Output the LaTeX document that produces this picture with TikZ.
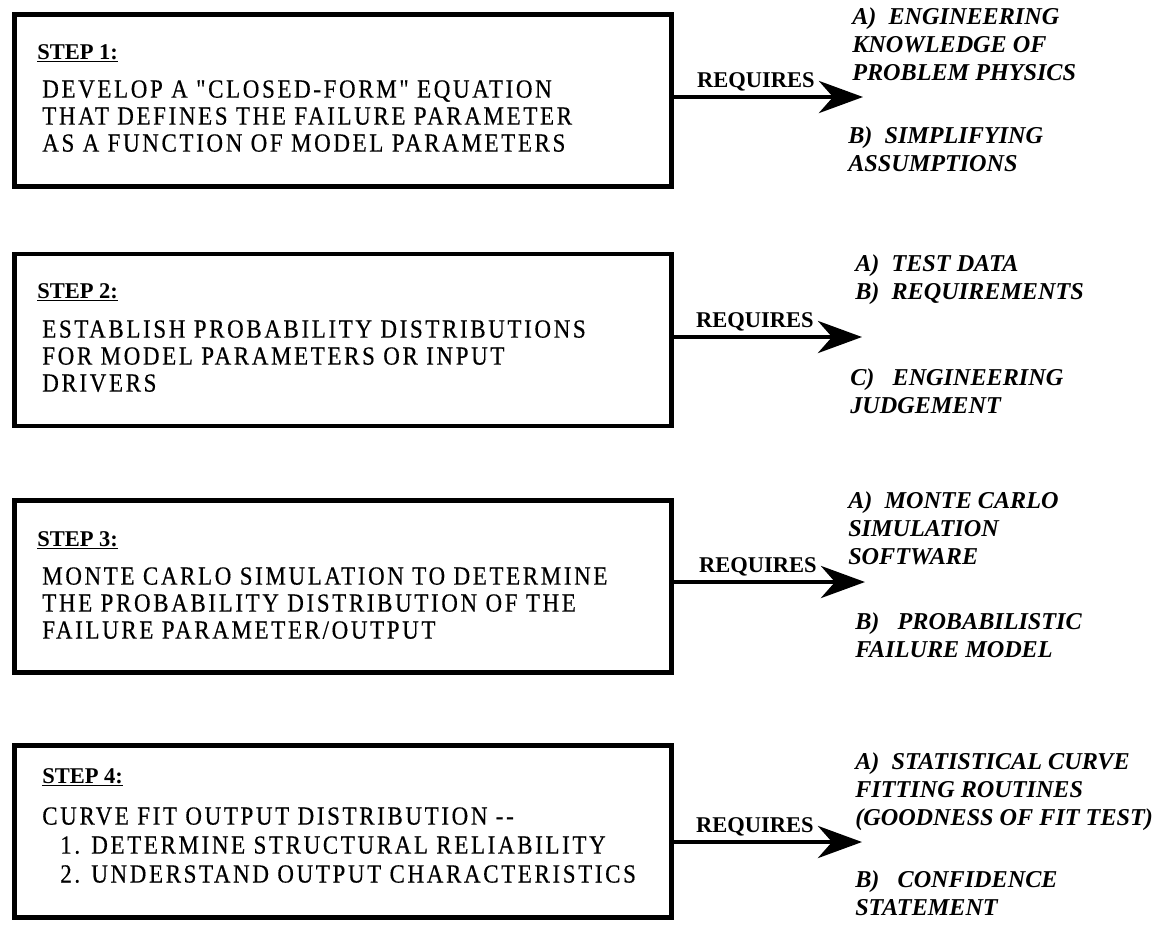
\documentclass[tikz,border=0pt]{standalone}
\usepackage{fontspec}
\setmainfont{Liberation Serif}
\newfontfamily\boxfont[FakeStretch=0.88,LetterSpace=10,FakeBold=0.4]{Liberation Serif}
\usetikzlibrary{arrows.meta}

\begin{document}
\begin{tikzpicture}[x=0.025cm, y=-0.025cm,
    stepbox/.style={draw, line width=3.5pt, minimum width=16.41cm, minimum height=4.3cm, inner sep=0pt},
    steplabel/.style={anchor=base west, inner sep=0pt, font=\fontsize{16}{19}\selectfont\bfseries},
    steptext/.style={anchor=north west, inner sep=0pt, align=left, font=\boxfont\fontsize{18.6}{19.2}\selectfont},
    needs/.style={anchor=north west, inner sep=0pt, align=left, font=\fontsize{17.2}{20.2}\selectfont\bfseries\itshape},
    reqarrow/.style={line width=3.5pt, -{Stealth[length=1.1cm, width=0.8cm, inset=0.35cm]}},
    reqlabel/.style={anchor=base east, inner sep=0pt, xshift=-1.15cm, yshift=0.25cm, font=\fontsize{16}{19}\selectfont\bfseries}]
    \useasboundingbox (0,0) rectangle (1164,930);

    % Step boxes
    \node[stepbox] (s1) at (343,100.5) {};
    \node[stepbox] (s2) at (343,340) {};
    \node[stepbox] (s3) at (343,586.5) {};
    \node[stepbox] (s4) at (343,831.5) {};

    % Step 1
    \node[steplabel] (l1) at (37,59) {\underline{STEP 1:}};
    \node[steptext] (b1) at (42,80) {DEVELOP A "CLOSED-FORM" EQUATION\\THAT DEFINES THE FAILURE PARAMETER\\AS A FUNCTION OF MODEL PARAMETERS};

    % Step 2
    \node[steplabel] (l2) at (37,298) {\underline{STEP 2:}};
    \node[steptext] (b2) at (42,320) {ESTABLISH PROBABILITY DISTRIBUTIONS\\FOR MODEL PARAMETERS OR INPUT\\DRIVERS};

    % Step 3
    \node[steplabel] (l3) at (37,546) {\underline{STEP 3:}};
    \node[steptext] (b3) at (42,567) {MONTE CARLO SIMULATION TO DETERMINE\\THE PROBABILITY DISTRIBUTION OF THE\\FAILURE PARAMETER/OUTPUT};

    % Step 4
    \node[steplabel] (l4) at (42,783) {\underline{STEP 4:}};
    \node[steptext, font=\boxfont\fontsize{18.6}{20.6}\selectfont] (b4) at (42,807) {CURVE FIT OUTPUT DISTRIBUTION -{}-\\
        \hspace*{0.45cm}1. DETERMINE STRUCTURAL RELIABILITY\\
        \hspace*{0.45cm}2. UNDERSTAND OUTPUT CHARACTERISTICS};

    % Requirements
    \node[needs] (r1a) at (852,7) {A)\ \ ENGINEERING\\KNOWLEDGE OF\\PROBLEM PHYSICS};
    \node[needs] (r1b) at (848,126) {B)\ \ SIMPLIFYING\\ASSUMPTIONS};
    \node[needs] (r2a) at (855,254) {A)\ \ TEST DATA\\B)\ \ REQUIREMENTS};
    \node[needs] (r2c) at (850,368) {C)\ \ \ ENGINEERING\\JUDGEMENT};
    \node[needs] (r3a) at (848,491) {A)\ \ MONTE CARLO\\SIMULATION\\SOFTWARE};
    \node[needs] (r3b) at (855,612) {B)\ \ \ PROBABILISTIC\\FAILURE MODEL};
    \node[needs] (r4a) at (855,752) {A)\ \ STATISTICAL CURVE\\FITTING ROUTINES\\(GOODNESS OF FIT TEST)};
    \node[needs] (r4b) at (855,870) {B)\ \ \ CONFIDENCE\\STATEMENT};

    % Arrows
    \coordinate (t1) at (863,97);
    \coordinate (t2) at (862,337);
    \coordinate (t3) at (865,582);
    \coordinate (t4) at (862,842);
    \draw[reqarrow] (s1.east |- t1) -- (t1) node[reqlabel] {REQUIRES};
    \draw[reqarrow] (s2.east |- t2) -- (t2) node[reqlabel] {REQUIRES};
    \draw[reqarrow] (s3.east |- t3) -- (t3) node[reqlabel] {REQUIRES};
    \draw[reqarrow] (s4.east |- t4) -- (t4) node[reqlabel] {REQUIRES};
\end{tikzpicture}
\end{document}
